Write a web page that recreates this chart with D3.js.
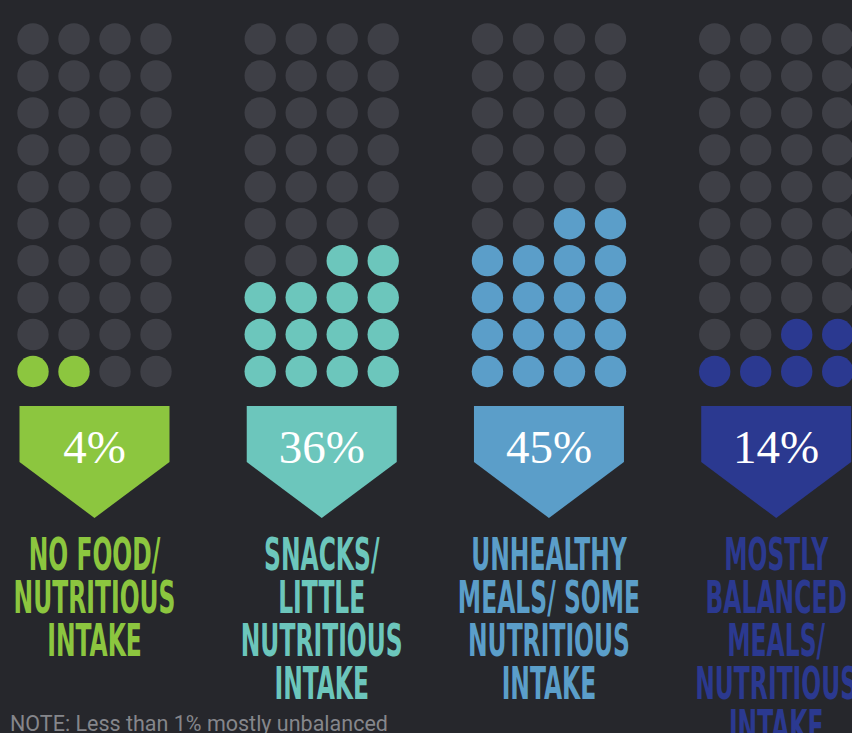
<!DOCTYPE html>
<html>
<head>
<meta charset="utf-8">
<script src="https://cdn.jsdelivr.net/npm/d3@7"></script>
<style>
  html, body { margin: 0; padding: 0; background: #26272c; overflow: hidden; }
</style>
</head>
<body>
<svg id="chart" width="852" height="733"></svg>
<script>
// data
const categories = ["none", "snacks", "unhealthy", "balanced"];
const labelLines = [
  ["NO FOOD/", "NUTRITIOUS", "INTAKE"],
  ["SNACKS/", "LITTLE", "NUTRITIOUS", "INTAKE"],
  ["UNHEALTHY", "MEALS/ SOME", "NUTRITIOUS", "INTAKE"],
  ["MOSTLY", "BALANCED", "MEALS/", "NUTRITIOUS", "INTAKE"]
];
const percents = [4, 36, 45, 14];
const filledDots = [2, 14, 18, 6];          // out of 40
const fillSide = ["left", "right", "right", "right"];
const colors = ["#8cc63f", "#6cc6bc", "#5b9ec9", "#2b3990"];
const note = "NOTE: Less than 1% mostly unbalanced";

const dotCols = 4, dotRows = 10;

const svg = d3.select("#chart"),
    width = +svg.attr("width"),
    height = +svg.attr("height");

const x = d3.scalePoint()
    .domain(categories)
    .range([94.5, 776.2]);

const dx = d3.scaleLinear().domain([0, dotCols - 1]).range([-61.5, 61.5]);
const dy = d3.scaleLinear().domain([0, dotRows - 1]).range([39, 371.5]);

let dots = [];
categories.forEach((c, i) => {
  for (let r = 0; r < dotRows; r++) {
    let fromBottom = dotRows - 1 - r;
    let n = Math.max(0, Math.min(dotCols, filledDots[i] - fromBottom * dotCols));
    for (let k = 0; k < dotCols; k++) {
      let on = fillSide[i] == "right" ? k >= dotCols - n : k < n;
      dots.push({cat: c, i: i, row: r, col: k, on: on});
    }
  }
});

svg.append("g").selectAll("circle")
  .data(dots)
  .enter().append("circle")
  .attr("cx", d => x(d.cat) + dx(d.col))
  .attr("cy", d => dy(d.row))
  .attr("r", 15.7)
  .attr("fill", d => d.on ? colors[d.i] : "#3e3f46");

// arrow badges
const badgeTop = 406, shoulder = 462, tip = 518, half = 75;
let badge = svg.append("g").selectAll("g")
  .data(categories)
  .enter().append("g")
  .attr("transform", d => "translate(" + x(d) + ",0)");

badge.append("path")
  .attr("d", "M" + (-half) + "," + badgeTop + "H" + half + "V" + shoulder + "L0," + tip + "L" + (-half) + "," + shoulder + "Z")
  .attr("fill", (d, i) => colors[i]);

badge.append("text")
  .attr("y", 463)
  .attr("text-anchor", "middle")
  .attr("font-family", "'Liberation Serif', 'DejaVu Serif', serif")
  .attr("font-size", 47)
  .attr("fill", "#ffffff")
  .text((d, i) => percents[i] + "%");

// category labels
const labelFont = "'Liberation Sans Narrow', 'DejaVu Sans Condensed', 'Liberation Sans', sans-serif";
let label = badge.append("text")
  .attr("font-family", labelFont)
  .attr("font-weight", "bold")
  .attr("font-size", 44)
  .attr("text-anchor", "middle")
  .attr("fill", (d, i) => colors[i]);

label.selectAll("tspan")
  .data((d, i) => labelLines[i])
  .enter().append("tspan")
  .attr("x", 0)
  .attr("y", (d, j) => 570 + j * 43)
  .text(d => d);

// squeeze the labels so NUTRITIOUS is about 162px wide
let probe = svg.append("text")
  .attr("font-family", labelFont)
  .attr("font-weight", "bold")
  .attr("font-size", 44)
  .text("NUTRITIOUS");
let sx = 162 / probe.node().getComputedTextLength();
probe.remove();
label.attr("transform", "scale(" + sx + ",1)");

svg.append("text")
  .attr("x", 10)
  .attr("y", 731)
  .attr("font-family", "Roboto, 'Liberation Sans', sans-serif")
  .attr("font-size", 21.5)
  .attr("fill", "#85868b")
  .text(note);
</script>
</body>
</html>
